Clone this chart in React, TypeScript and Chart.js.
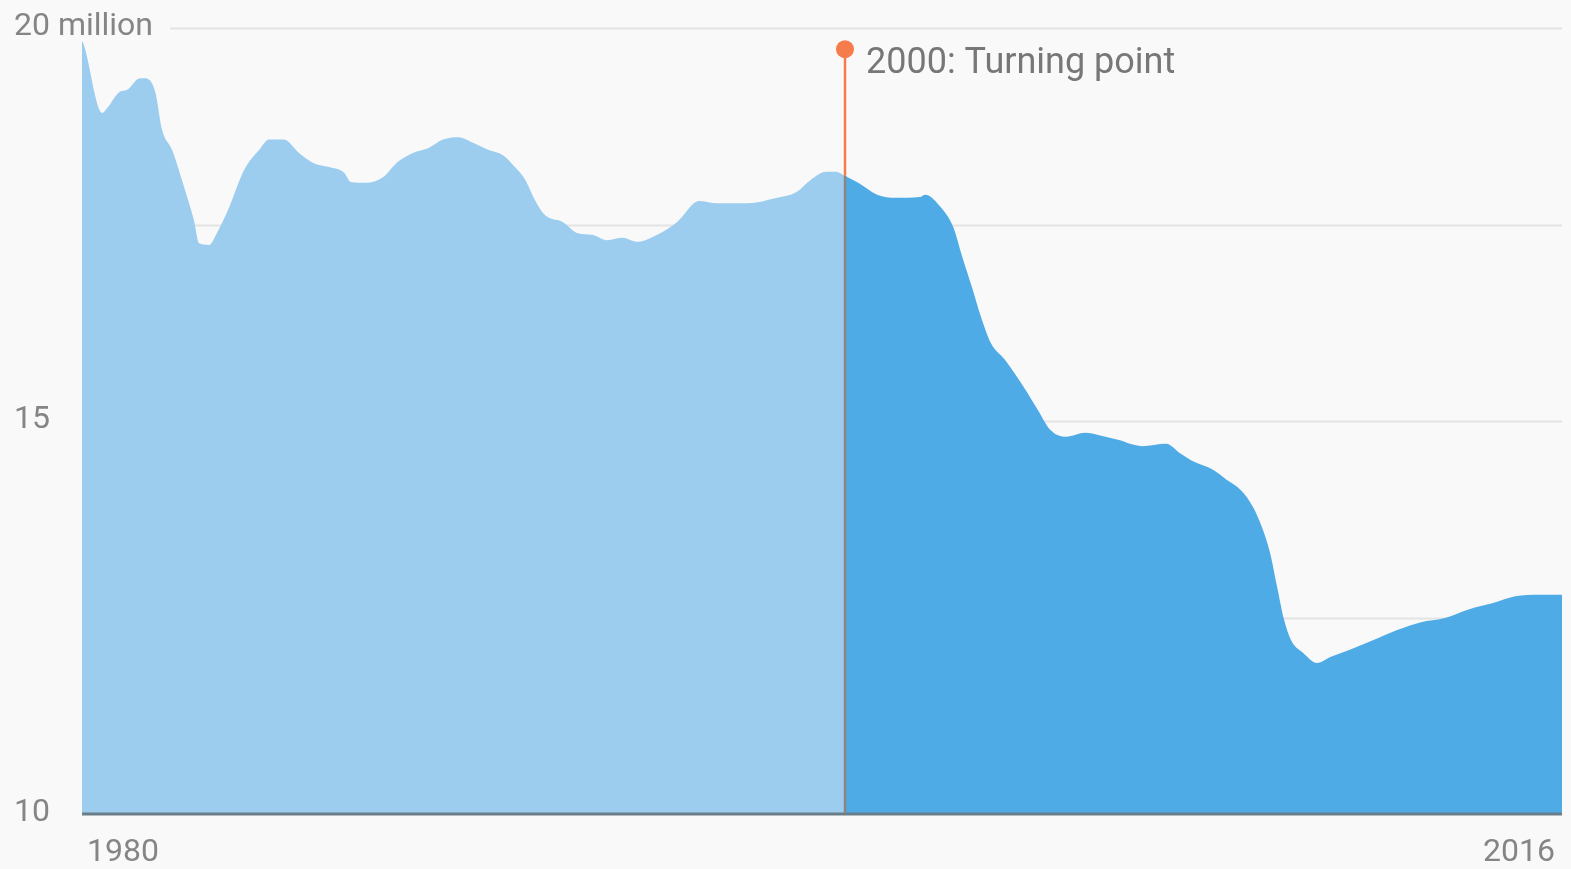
import React, { useEffect, useRef } from "react";
import { Chart, registerables } from "chart.js";

Chart.register(...registerables);

// Time (decimal years) and employment (millions)
const years: number[] = [
  1980.0, 1980.02, 1980.49, 1980.61, 1980.92, 1981.09, 1981.41, 1981.53, 1981.78, 1981.95,
  1982.19, 1982.48, 1982.72, 1982.85, 1983.09, 1983.28, 1983.58, 1983.94, 1984.31, 1984.55,
  1984.91, 1985.28, 1985.64, 1986.01, 1986.37, 1986.54, 1986.91, 1987.32, 1987.69, 1988.05,
  1988.42, 1988.78, 1989.15, 1989.51, 1989.88, 1990.24, 1990.53, 1990.78, 1991.02, 1991.26,
  1991.7, 1992.06, 1992.41, 1992.77, 1993.14, 1993.5, 1993.99, 1994.47, 1995.01, 1995.45,
  1996.18, 1996.91, 1997.37, 1997.73, 1998.1, 1998.34, 1998.56,
  1998.88, 1999.34, 1999.8, 2000.38, 2000.51, 2000.89, 2001.19, 2001.41, 2001.65, 2001.87,
  2002.11, 2002.45, 2002.91, 2003.25, 2003.55, 2003.94, 2004.4, 2004.74, 2005.2, 2005.78,
  2006.37, 2006.71, 2007.05, 2007.51, 2007.85, 2008.19, 2008.48, 2008.7, 2008.9, 2009.07,
  2009.24, 2009.41, 2009.7, 2010.04, 2010.38, 2010.84, 2011.4, 2011.99, 2012.57, 2013.13,
  2013.71, 2014.3, 2014.86, 2015.44, 2016.0,
];

const employment: number[] = [
  19.83, 19.82, 18.92, 18.98, 19.19, 19.21, 19.36, 19.36, 19.19, 18.7,
  18.45, 17.98, 17.56, 17.26, 17.24, 17.39, 17.72, 18.19, 18.45, 18.58,
  18.58, 18.41, 18.28, 18.23, 18.16, 18.04, 18.03, 18.1, 18.3, 18.41,
  18.47, 18.58, 18.61, 18.54, 18.45, 18.38, 18.23, 18.07, 17.81, 17.62,
  17.53, 17.39, 17.37, 17.3, 17.33, 17.28, 17.37, 17.53, 17.8, 17.77,
  17.77, 17.84, 17.91, 18.07, 18.17, 18.17, 18.12,
  18.03, 17.88, 17.84, 17.85, 17.88, 17.72, 17.47, 17.09, 16.7, 16.32,
  15.99, 15.78, 15.43, 15.14, 14.89, 14.8, 14.85, 14.82, 14.76, 14.68,
  14.71, 14.59, 14.48, 14.38, 14.25, 14.12, 13.91, 13.65, 13.32, 12.89,
  12.47, 12.21, 12.05, 11.92, 12.0, 12.09, 12.21, 12.34, 12.44, 12.49,
  12.6, 12.68, 12.77, 12.79, 12.79,
];

const turnYear = 1998.56;
const turnLabel = "2000: Turning point";
const turnMarkerValue = 19.73;

const xRange: number[] = [1980, 2016];
const xTickLabels: string[] = ["1980", "2016"];
const yRange: number[] = [10, 20];
const yTickValues: number[] = [10, 15, 20];
const yTickLabels: string[] = ["10", "15", "20 million"];
const gridValues: number[] = [12.5, 15, 17.5, 20];

const LIGHT = "#9ccdef";
const DARK = "#4eabe6";
const ORANGE = "#f67c4c";
const BG = "#f9f9f9";
const FONT = "Roboto, 'Noto Sans', sans-serif";

export default function App() {
  const canvasRef = useRef<HTMLCanvasElement | null>(null);

  useEffect(() => {
    const canvas = canvasRef.current;
    if (!canvas) return;

    const pre = years
      .map((x, i) => ({ x, y: employment[i] }))
      .filter((p) => p.x <= turnYear);
    const post = years
      .map((x, i) => ({ x, y: employment[i] }))
      .filter((p) => p.x >= turnYear);
    const turnValue = employment[years.indexOf(turnYear)];

    const decor = {
      id: "decor",
      beforeDatasetsDraw(chart: any) {
        const { ctx, chartArea } = chart;
        const ys = chart.scales.y;
        ctx.save();
        ctx.strokeStyle = "#e4e4e4";
        ctx.lineWidth = 2;
        gridValues.forEach((v) => {
          const py = Math.round(ys.getPixelForValue(v)) + 0.5;
          const startX = v === yRange[1] ? chartArea.left + 88 : chartArea.left;
          ctx.beginPath();
          ctx.moveTo(startX, py);
          ctx.lineTo(chartArea.right, py);
          ctx.stroke();
        });
        ctx.restore();
      },
      afterDatasetsDraw(chart: any) {
        const { ctx, chartArea } = chart;
        const xs = chart.scales.x;
        const ys = chart.scales.y;
        ctx.save();

        // baseline axis
        ctx.strokeStyle = "#6a7e8a";
        ctx.lineWidth = 3;
        ctx.beginPath();
        ctx.moveTo(chartArea.left, chartArea.bottom);
        ctx.lineTo(chartArea.right, chartArea.bottom);
        ctx.stroke();

        // annotation
        const tx = Math.round(xs.getPixelForValue(turnYear));
        const markerY = ys.getPixelForValue(turnMarkerValue);
        const topY = ys.getPixelForValue(turnValue);
        ctx.lineWidth = 2.5;
        ctx.strokeStyle = ORANGE;
        ctx.beginPath();
        ctx.moveTo(tx, markerY);
        ctx.lineTo(tx, topY);
        ctx.stroke();
        ctx.strokeStyle = "#8e8480";
        ctx.beginPath();
        ctx.moveTo(tx, topY);
        ctx.lineTo(tx, chartArea.bottom - 1);
        ctx.stroke();
        ctx.fillStyle = ORANGE;
        ctx.beginPath();
        ctx.arc(tx, markerY, 9, 0, Math.PI * 2);
        ctx.fill();

        ctx.fillStyle = "#777777";
        ctx.font = `36px ${FONT}`;
        ctx.textAlign = "left";
        ctx.textBaseline = "alphabetic";
        ctx.fillText(turnLabel, tx + 21, markerY + 24);

        // y labels
        ctx.fillStyle = "#858585";
        ctx.font = `32px ${FONT}`;
        yTickValues.forEach((v, i) => {
          ctx.fillText(yTickLabels[i], 14, ys.getPixelForValue(v) + 7);
        });

        // x labels
        const labelY = chartArea.bottom + 47;
        ctx.textAlign = "left";
        ctx.fillText(xTickLabels[0], xs.getPixelForValue(xRange[0]) + 5, labelY);
        ctx.textAlign = "right";
        ctx.fillText(xTickLabels[1], xs.getPixelForValue(xRange[1]) - 7, labelY);

        ctx.restore();
      },
    };

    const chart = new Chart(canvas, {
      type: "line",
      data: {
        datasets: [
          {
            data: pre,
            fill: "start",
            backgroundColor: LIGHT,
            borderColor: "rgba(0,0,0,0)",
            borderWidth: 0,
            pointRadius: 0,
          },
          {
            data: post,
            fill: "start",
            backgroundColor: DARK,
            borderColor: "rgba(0,0,0,0)",
            borderWidth: 0,
            pointRadius: 0,
          },
        ],
      },
      options: {
        animation: false,
        responsive: false,
        maintainAspectRatio: false,
        layout: { padding: { left: 82, right: 9, top: 28, bottom: 55 } },
        elements: { line: { cubicInterpolationMode: "monotone" } },
        scales: {
          x: { type: "linear", min: xRange[0], max: xRange[1], display: false },
          y: { type: "linear", min: yRange[0], max: yRange[1], display: false },
        },
        plugins: {
          legend: { display: false },
          tooltip: { enabled: false },
        },
      },
      plugins: [decor],
    });

    return () => chart.destroy();
  }, []);

  return (
    <div
      style={{
        position: "fixed",
        left: 0,
        top: 0,
        width: 1571,
        height: 869,
        background: BG,
      }}
    >
      <canvas ref={canvasRef} width={1571} height={869} style={{ display: "block" }} />
    </div>
  );
}
